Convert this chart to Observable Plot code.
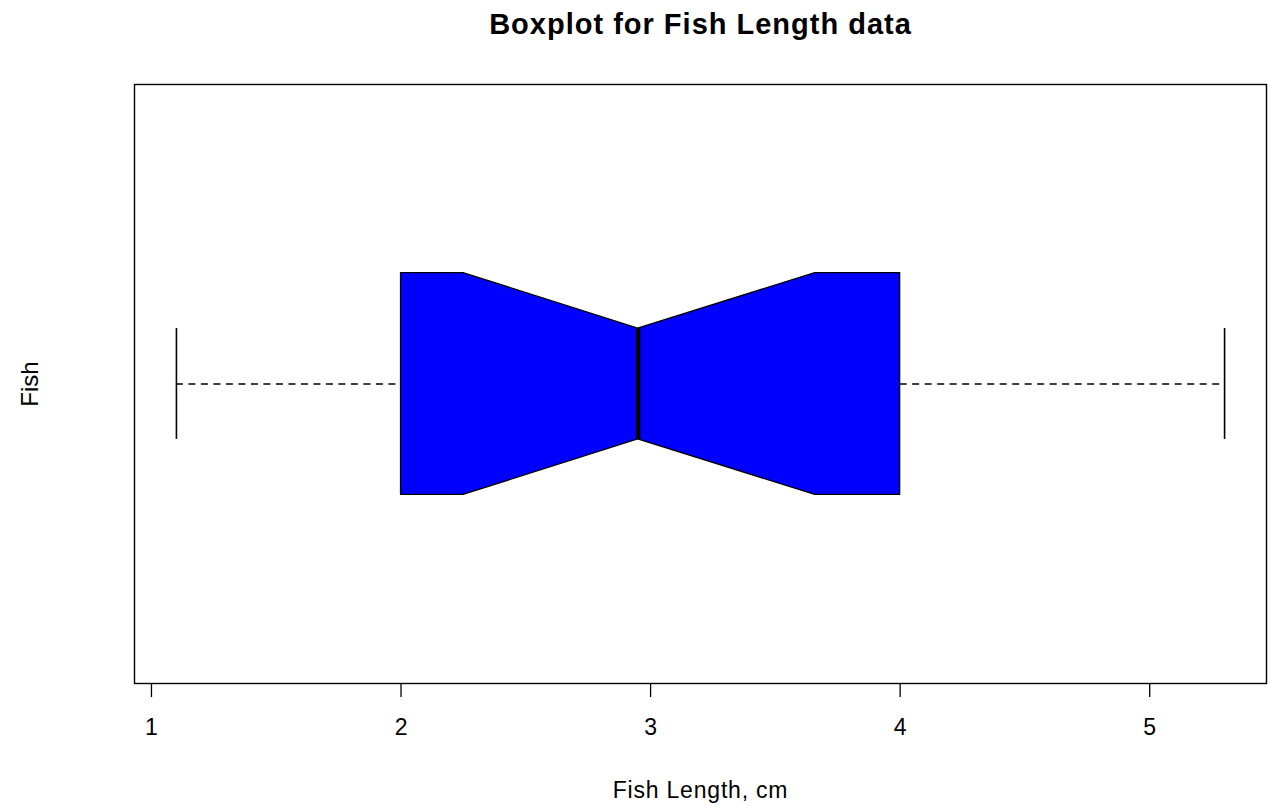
<!DOCTYPE html>
<html>
<head>
<meta charset="utf-8">
<script src="https://cdn.jsdelivr.net/npm/d3@7"></script>
<script src="https://cdn.jsdelivr.net/npm/@observablehq/plot@0.6"></script>
<style>
  html, body { margin: 0; padding: 0; background: #fff; }
  #chart { width: 1271px; height: 806px; }
</style>
</head>
<body>
<div id="chart"></div>
<script>
// ---- data ----
const statNames  = ["min", "q1", "notchLow", "median", "notchHigh", "q3", "max"];
const statValues = [1.1, 2.0, 2.25, 2.95, 3.66, 4.0, 5.3];
const xTicks = [1, 2, 3, 4, 5];
const title = "Boxplot for Fish Length data";
const xLabel = "Fish Length, cm";
const yLabel = "Fish";
const groupPos = 1;

const s = Object.fromEntries(statNames.map((n, i) => [n, statValues[i]]));

// notched box outline built from the stats
const half = 0.2, notchHalf = 0.1;
const boxShape = [
  {x: s.q1, y1: groupPos - half, y2: groupPos + half},
  {x: s.notchLow, y1: groupPos - half, y2: groupPos + half},
  {x: s.median, y1: groupPos - notchHalf, y2: groupPos + notchHalf},
  {x: s.notchHigh, y1: groupPos - half, y2: groupPos + half},
  {x: s.q3, y1: groupPos - half, y2: groupPos + half}
];

// R-style 4% range extension
const span = s.max - s.min;
const xDomain = [s.min - 0.04 * span, s.max + 0.04 * span];
const yDomain = [groupPos - 0.5 - 0.04, groupPos + 0.5 + 0.04];

const font = "'Liberation Sans', Arial, sans-serif";

const chart = Plot.plot({
  width: 1271,
  height: 806,
  marginTop: 84,
  marginBottom: 123,
  marginLeft: 134,
  marginRight: 5,
  style: {fontFamily: font, fontSize: "23px", color: "#000", background: "#fff"},
  x: {domain: xDomain},
  y: {domain: yDomain, axis: null},
  marks: [
    // whiskers (dashed)
    Plot.ruleY([groupPos], {x1: s.min, x2: s.q1, stroke: "#000", strokeWidth: 1.5, strokeDasharray: "7,5.5"}),
    Plot.ruleY([groupPos], {x1: s.q3, x2: s.max, stroke: "#000", strokeWidth: 1.5, strokeDasharray: "7,5.5"}),
    // staples
    Plot.ruleX([s.min, s.max], {y1: groupPos - notchHalf, y2: groupPos + notchHalf, stroke: "#000", strokeWidth: 1.6}),
    // notched box
    Plot.areaY(boxShape, {x: "x", y1: "y1", y2: "y2", fill: "#0000FF", stroke: "#000", strokeWidth: 1.3, curve: "linear"}),
    // median
    Plot.ruleX([s.median], {y1: groupPos - notchHalf, y2: groupPos + notchHalf, stroke: "#000", strokeWidth: 4.5}),
    // frame
    Plot.frame({stroke: "#000", strokeWidth: 1.4}),
    // x axis
    Plot.axisX({ticks: xTicks, tickFormat: d => String(d), tickSize: 14, tickPadding: 21, fontSize: 23, stroke: "#000", strokeWidth: 1.3, label: null}),
    // axis titles
    Plot.text([xLabel], {frameAnchor: "bottom", dy: 107, lineAnchor: "middle", textAnchor: "middle", fontSize: 23, fill: "#000", style: "letter-spacing:0.8px"}),
    Plot.text([yLabel], {frameAnchor: "left", dx: -104, rotate: -90, lineAnchor: "middle", textAnchor: "middle", fontSize: 24, fill: "#000"}),
    // main title
    Plot.text([title], {frameAnchor: "top", dy: -60, lineAnchor: "middle", textAnchor: "middle", fontSize: 29, fontWeight: "bold", fill: "#000"})
  ]
});

// slight letter spacing on the title and x label, like the reference rendering
d3.select(chart).selectAll("text").filter(function () { return this.textContent === title; })
  .style("letter-spacing", "1px");
d3.select(chart).selectAll("text").filter(function () { return this.textContent === xLabel; })
  .style("letter-spacing", "0.8px");

document.getElementById("chart").appendChild(chart);
</script>
</body>
</html>
